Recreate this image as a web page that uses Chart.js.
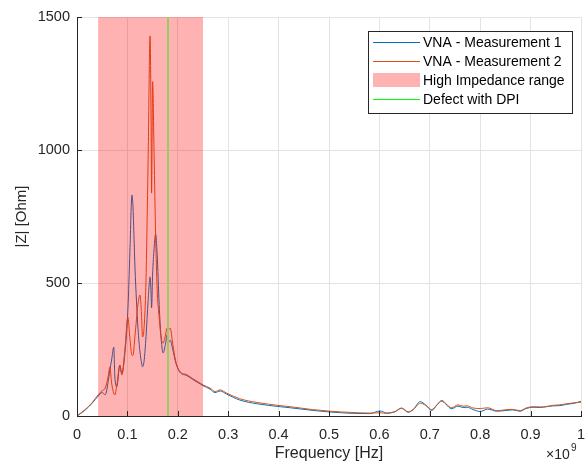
<!DOCTYPE html>
<html>
<head>
<meta charset="utf-8">
<script src="https://cdn.jsdelivr.net/npm/chart.js@4/dist/chart.umd.min.js"></script>
<style>
html,body{margin:0;padding:0;background:#fff;}
#wrap{width:586px;height:463px;position:relative;}
</style>
</head>
<body>
<div id="wrap"><canvas id="c" width="586" height="463"></canvas></div>
<script>
// Frequency in units of 1e9 Hz
const freq = [0.000,0.016,0.030,0.042,0.050,0.056,0.062,0.065,0.069,0.073,0.075,0.079,0.085,0.089,0.095,0.101,0.105,0.109,0.111,0.115,0.121,0.125,0.128,0.130,0.133,0.137,0.141,0.145,0.147,0.148,0.150,0.153,0.156,0.159,0.163,0.167,0.171,0.175,0.179,0.181,0.185,0.190,0.196,0.204,0.218,0.230,0.244,0.250,0.264,0.274,0.284,0.297,0.323,0.357,0.403,0.423,0.468,0.502,0.548,0.581,0.601,0.615,0.631,0.644,0.657,0.667,0.681,0.692,0.704,0.714,0.724,0.732,0.743,0.756,0.766,0.774,0.786,0.800,0.815,0.833,0.853,0.865,0.879,0.891,0.905,0.919,0.932,0.944,0.958,0.972,0.984,1.000];
const meas1 = [0,22,48,75,88,80,130,170,215,259,150,110,190,160,235,400,620,831,790,560,330,240,200,185,205,300,430,523,460,406,530,630,683,610,420,290,237,265,305,275,285,250,200,165,152,137,121,114,101,88,94,82,60,46,35,31,21,15,10,9,19,11,16,29,14,24,54,41,21,41,56,44,27,37,32,33,24,17,26,18,21,23,18,28,33,32,35,38,39,44,47,55];
const meas2 = [0,24,50,80,95,105,150,184,120,85,79,115,192,154,250,372,290,229,228,300,420,455,380,297,330,520,950,1429,1100,838,1257,980,680,480,370,295,274,300,331,325,330,270,205,168,155,140,124,117,105,92,98,86,65,51,39,35,24,18,13,11,12,10,17,30,16,24,48,40,24,42,59,46,31,42,37,38,30,28,31,20,24,25,20,30,35,34,36,40,42,46,49,52];
const xTicks = [0,0.1,0.2,0.3,0.4,0.5,0.6,0.7,0.8,0.9,1];
const yTicks = [0,500,1000,1500];
const highZRange = [0.042, 0.25];
const defectFreq = 0.18;
const seriesNames = ['VNA - Measurement 1','VNA - Measurement 2','High Impedance range','Defect with DPI'];

const FONT = '"Liberation Sans", Arial, Helvetica, sans-serif';
const C_BLUE = 'rgb(0,114,189)';
const C_RED = 'rgb(217,83,25)';
const C_PATCH = 'rgba(255,0,0,0.3)';
const C_GREEN_IN = 'rgb(150,205,100)';
const C_GREEN = 'rgb(0,255,0)';

const overlay = {
  id: 'overlay',
  afterDatasetsDraw(chart) {
    const {ctx, chartArea: a, scales: {x, y}} = chart;
    ctx.save();
    const x0 = x.getPixelForValue(highZRange[0]);
    const x1 = x.getPixelForValue(highZRange[1]);
    ctx.fillStyle = C_PATCH;
    ctx.fillRect(x0, y.getPixelForValue(1500), x1 - x0, y.getPixelForValue(0) - y.getPixelForValue(1500));
    const xd = Math.round(x.getPixelForValue(defectFreq));
    ctx.strokeStyle = C_GREEN_IN;
    ctx.lineWidth = 2;
    ctx.beginPath();
    ctx.moveTo(xd, a.top);
    ctx.lineTo(xd, a.bottom);
    ctx.stroke();
    ctx.strokeStyle = '#262626';
    ctx.lineWidth = 1;
    ctx.beginPath();
    xTicks.forEach(v => {
      const px = Math.round(x.getPixelForValue(v)) + 0.5;
      ctx.moveTo(px, a.bottom);
      ctx.lineTo(px, a.bottom - 5);
    });
    yTicks.forEach(v => {
      const py = Math.round(y.getPixelForValue(v)) + 0.5;
      ctx.moveTo(a.left, py);
      ctx.lineTo(a.left + 5, py);
    });
    ctx.stroke();
    ctx.restore();
  },
  afterDraw(chart) {
    const {ctx} = chart;
    ctx.save();
    ctx.fillStyle = '#262626';
    ctx.font = '14px ' + FONT;
    ctx.textBaseline = 'alphabetic';
    ctx.textAlign = 'left';
    ctx.fillText('\u00d710', 546, 459);
    ctx.font = '10px ' + FONT;
    ctx.fillText('9', 571, 451);
    const lx = 368, ly = 31, lw = 204, lh = 82;
    ctx.fillStyle = '#fff';
    ctx.fillRect(lx, ly, lw, lh);
    ctx.strokeStyle = '#262626';
    ctx.lineWidth = 1;
    ctx.strokeRect(lx + 0.5, ly + 0.5, lw, lh);
    const rows = [42, 61, 80, 99];
    ctx.font = '14px ' + FONT;
    ctx.textBaseline = 'middle';
    rows.forEach((ry, i) => {
      if (i === 2) {
        ctx.fillStyle = C_PATCH;
        ctx.fillRect(373, ry - 7, 47, 14);
      } else {
        ctx.strokeStyle = i === 0 ? C_BLUE : (i === 1 ? C_RED : C_GREEN);
        ctx.lineWidth = 1;
        ctx.beginPath();
        ctx.moveTo(373, ry + 0.5);
        ctx.lineTo(420, ry + 0.5);
        ctx.stroke();
      }
      ctx.fillStyle = '#000';
      ctx.fillText(seriesNames[i], 423, ry + 1);
    });
    ctx.restore();
  }
};

new Chart(document.getElementById('c'), {
  type: 'line',
  data: {
    datasets: [
      {label: seriesNames[0], data: freq.map((f, i) => ({x: f, y: meas1[i]})), borderColor: C_BLUE, borderWidth: 1, pointRadius: 0, cubicInterpolationMode: 'monotone', order: 1},
      {label: seriesNames[1], data: freq.map((f, i) => ({x: f, y: meas2[i]})), borderColor: C_RED, borderWidth: 1, pointRadius: 0, cubicInterpolationMode: 'monotone', order: 0}
    ]
  },
  options: {
    responsive: false,
    animation: false,
    events: [],
    layout: {padding: {top: 17, right: 5, left: 0, bottom: 0}},
    plugins: {legend: {display: false}, tooltip: {enabled: false}},
    scales: {
      x: {
        type: 'linear', min: 0, max: 1,
        afterFit(s) { s.height = 47; s.paddingRight = 0; s.paddingLeft = 0; },
        afterBuildTicks(s) { s.ticks = xTicks.map(v => ({value: v})); },
        grid: {color: '#e3e3e3', drawTicks: false, lineWidth: 1},
        border: {display: true, color: '#262626', width: 1},
        ticks: {padding: 10, color: '#262626', font: {family: FONT, size: 14.5}, maxRotation: 0,
          callback: v => (v === 0 || v === 1) ? String(v) : v.toFixed(1)},
        title: {display: true, text: 'Frequency [Hz]', color: '#262626', font: {family: FONT, size: 16}, padding: {top: 0, bottom: 0}}
      },
      y: {
        type: 'linear', min: 0, max: 1500,
        afterFit(s) { s.width = 77; s.paddingTop = 0; s.paddingBottom = 0; },
        afterBuildTicks(s) { s.ticks = yTicks.map(v => ({value: v})); },
        grid: {color: '#e3e3e3', drawTicks: false, lineWidth: 1},
        border: {display: true, color: '#262626', width: 1},
        ticks: {padding: 7, color: '#262626', font: {family: FONT, size: 14.5}, callback: v => String(v)},
        title: {display: true, text: '|Z| [Ohm]', color: '#262626', font: {family: FONT, size: 15}, padding: {top: 13, bottom: 0}}
      }
    }
  },
  plugins: [overlay]
});
</script>
</body>
</html>
